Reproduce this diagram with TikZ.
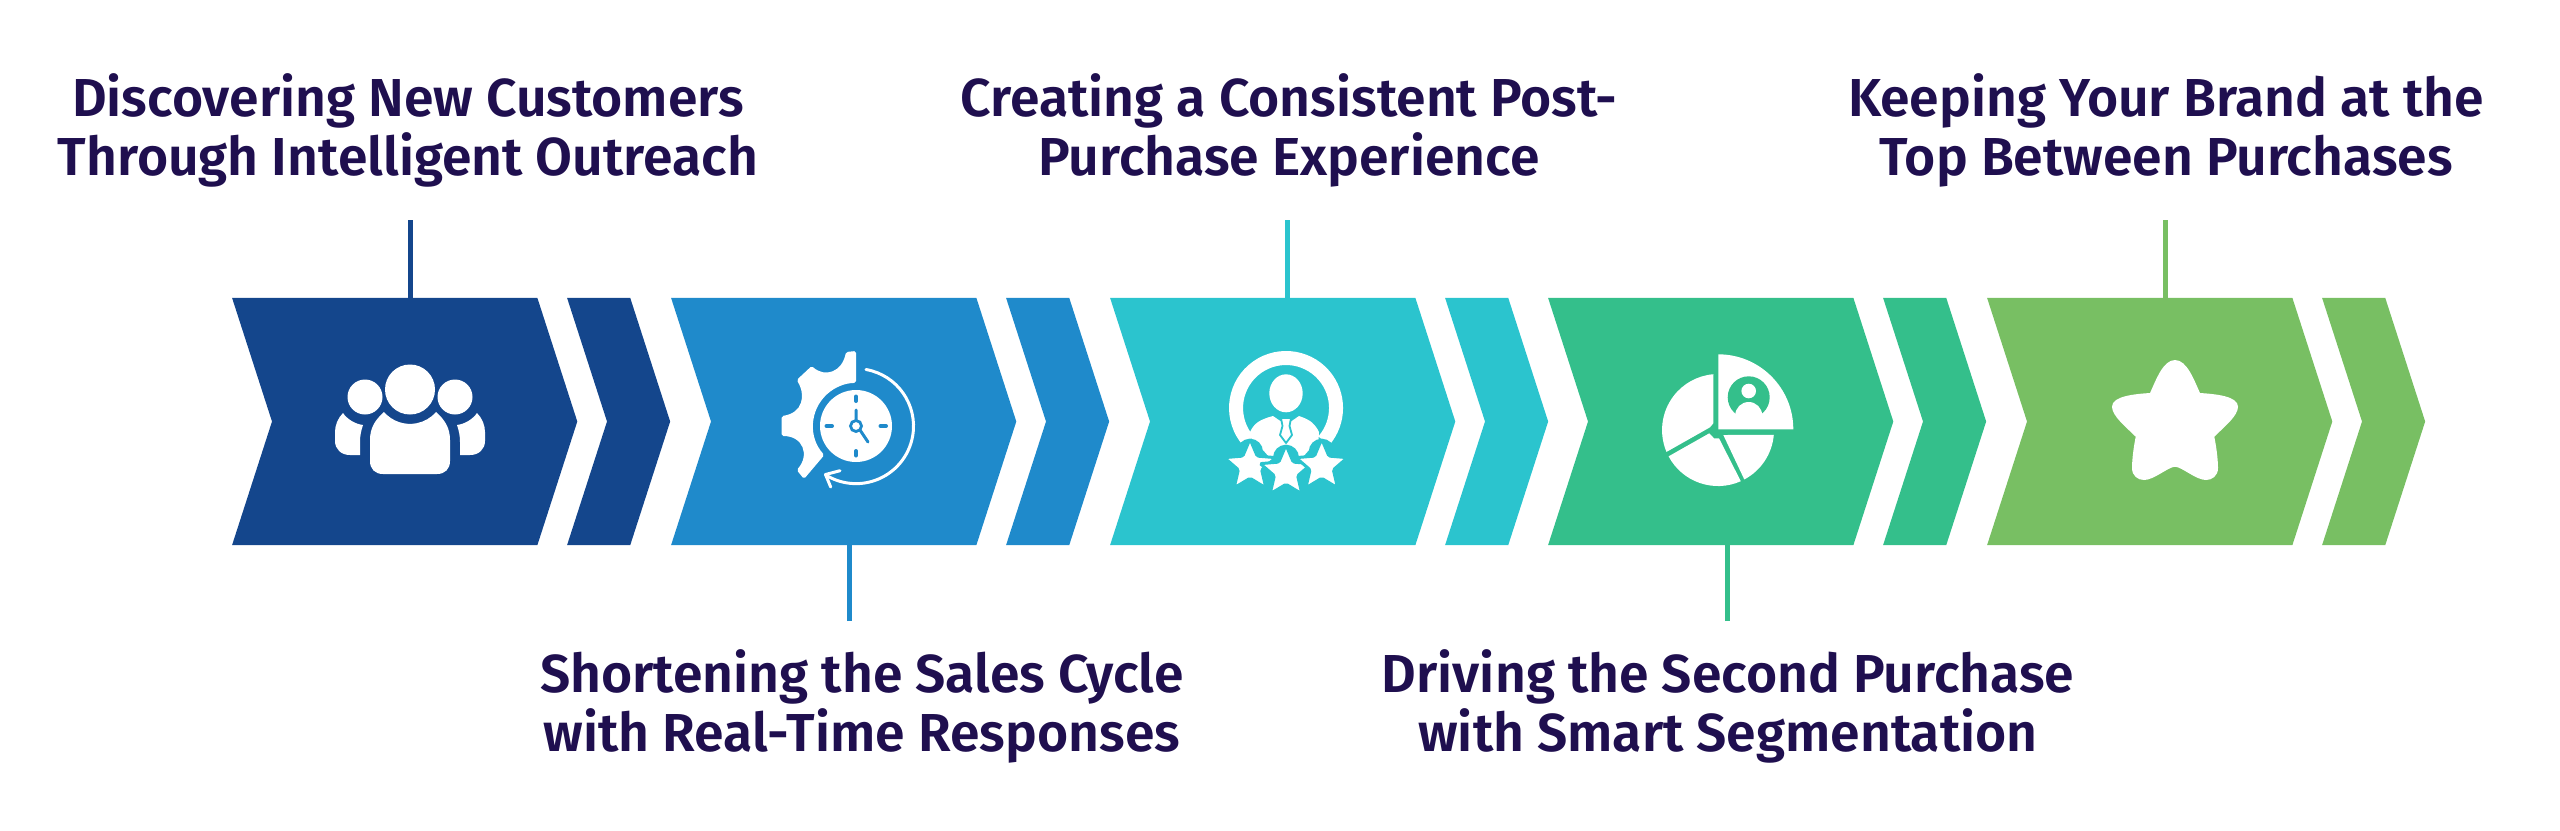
\documentclass[tikz,border=0pt]{standalone}
\usepackage{fontspec}
\setmainfont{Fira Sans}[BoldFont={Fira Sans SemiBold}]
\usetikzlibrary{shapes.symbols,shapes.geometric}
\definecolor{colA}{HTML}{14468C}
\definecolor{colB}{HTML}{1F8ACB}
\definecolor{colC}{HTML}{2BC4CE}
\definecolor{colD}{HTML}{34BF8B}
\definecolor{colE}{HTML}{78BF63}
\definecolor{inkcol}{HTML}{1F0F4F}
\tikzset{
	bigstep/.style={signal,signal from=west,signal to=east,signal pointer angle=144.2,fill=#1,inner sep=0,outer sep=0,minimum width=3.45cm,minimum height=2.47cm},
	tailstep/.style={signal,signal from=west,signal to=east,signal pointer angle=144.2,fill=#1,inner sep=0,outer sep=0,minimum width=1.03cm,minimum height=2.47cm},
	lbl/.style={text=inkcol,align=center,inner sep=0,font=\fontsize{15.2}{16.8}\selectfont\bfseries},
	tick/.style={draw=#1,line width=.05cm},
	rim/.style={draw=white,line width=.03cm,line cap=round,line join=round},
	rating/.style={star,star points=5,star point ratio=2.2,fill=white,draw=colC,line width=.03cm,inner sep=0,minimum size=.54cm,rounded corners=.4pt}
}
\begin{document}
\begin{tikzpicture}[x=.01cm,y=-.01cm]
	\useasboundingbox (0,0) rectangle (2560,830);

	\node[bigstep=colA,anchor=west] (stepA) at (272,421.5) {};
	\node[tailstep=colA,anchor=west] (tailA) at (607,421.5) {};
	\node[bigstep=colB,anchor=west] (stepB) at (711,421.5) {};
	\node[tailstep=colB,anchor=west] (tailB) at (1046,421.5) {};
	\node[bigstep=colC,anchor=west] (stepC) at (1150,421.5) {};
	\node[tailstep=colC,anchor=west] (tailC) at (1485,421.5) {};
	\node[bigstep=colD,anchor=west] (stepD) at (1588,421.5) {};
	\node[tailstep=colD,anchor=west] (tailD) at (1923,421.5) {};
	\node[bigstep=colE,anchor=west] (stepE) at (2027,421.5) {};
	\node[tailstep=colE,anchor=west] (tailE) at (2362,421.5) {};

	\node[lbl] (lblA) at (408,130) {Discovering New Customers\\Through Intelligent Outreach};
	\node[lbl] (lblB) at (862,706) {Shortening the Sales Cycle\\with Real-Time Responses};
	\node[lbl] (lblC) at (1289,130) {Creating a Consistent Post-\\Purchase Experience};
	\node[lbl] (lblD) at (1728,706) {Driving the Second Purchase\\with Smart Segmentation};
	\node[lbl] (lblE) at (2166,130) {Keeping Your Brand at the\\Top Between Purchases};

	\coordinate (tickA) at (410,220);
	\coordinate (tickB) at (849,621);
	\coordinate (tickC) at (1287,220);
	\coordinate (tickD) at (1727,621);
	\coordinate (tickE) at (2165,220);
	\draw[tick=colA] (tickA) -- (tickA |- stepA.north);
	\draw[tick=colB] (tickB) -- (tickB |- stepB.south);
	\draw[tick=colC] (tickC) -- (tickC |- stepC.north);
	\draw[tick=colD] (tickD) -- (tickD |- stepD.south);
	\draw[tick=colE] (tickE) -- (tickE |- stepE.north);

	\fill[white] (410,389.5) circle (25);
	\fill[white] (365,397) circle (17.5);
	\fill[white] (455,397) circle (17.5);
	\fill[white] (384,412) arc (139:41:34.5) .. controls (445,420) and (450,428) .. (450,440) -- (450,461) .. controls (450,469) and (445,474) .. (437,474) -- (383,474) .. controls (375,474) and (370,469) .. (370,461) -- (370,440) .. controls (370,428) and (375,420) .. (384,412) -- cycle;
	\fill[white] (343,413) .. controls (347,419) and (355,424) .. (363,425) .. controls (361,431) and (360,436) .. (360,442) -- (360,455) -- (350,455) .. controls (341,455) and (335,449) .. (335,441) -- (335,432) .. controls (335,425) and (338,418) .. (343,413) -- cycle;
	\fill[white] (477,413) .. controls (473,419) and (465,424) .. (457,425) .. controls (459,431) and (460,436) .. (460,442) -- (460,455) -- (470,455) .. controls (479,455) and (485,449) .. (485,441) -- (485,432) .. controls (485,425) and (482,418) .. (477,413) -- cycle;

	\fill[white,rounded corners=.5pt] (856,351) -- (846,352) .. controls (842,372) and (825,378) .. (811.7,366) -- (796.7,380) .. controls (806,395) and (803,413) .. (781.7,416) -- (781.7,436) .. controls (803,436) and (810,455) .. (796.7,470) -- (804,479) -- (824.3,455) arc (137.5:270:43) -- cycle;
	\fill[white] (856,426) circle (36);
	\draw[colB,line width=.04cm,line cap=round] (856,396.5) -- (856,401) (856,451) -- (856,455.5) (826.5,426) -- (832,426) (880.5,426) -- (886,426);
	\draw[colB,line width=.03cm,line cap=round] (856,410) -- (856,421) (860,430) -- (868,442);
	\draw[colB,fill=white,line width=.028cm] (856,426) circle (5.5);
	\draw[rim] (866,369.5) arc (-80:122:57.5);
	\draw[rim] (840,470.7) -- (825.5,474.5) -- (830.7,487);

	\draw[white,line width=.14cm] (1248.3,440.8) arc (139:401:50);
	\fill[white] (1286,393.3) ellipse (16.7 and 19);
	\fill[white] (1273,416) .. controls (1258,420) and (1254,424) .. (1250,432) -- (1254,450) -- (1318,450) -- (1319,432) .. controls (1315,424) and (1311,420) .. (1299,416) -- (1286,425) -- cycle;
	\fill[white] (1263,450) -- (1309,450) -- (1302,458) -- (1270,458) -- cycle;
	\draw[colC,fill=white,line width=.018cm,line join=round] (1281,418) -- (1291,418) -- (1289.5,426) -- (1292,435) -- (1286,443) -- (1280,435) -- (1282.5,426) -- cycle;
	\fill[colC] (1250,451.7) circle (13);
	\fill[colC] (1286,457.7) circle (13);
	\fill[colC] (1321.7,451.7) circle (13);
	\node[rating] (starL) at (1250,466) {};
	\node[rating] (starM) at (1286,472) {};
	\node[rating] (starR) at (1321.7,466) {};

	\fill[white] (1718.3,429.3) -- (1718.3,354.3) arc (270:360:75) -- cycle;
	\fill[colD] (1748.7,397.3) circle (21);
	\fill[white] (1748.7,391) circle (7.3);
	\fill[white] (1748.7,415.5) circle (13.5);
	\fill[white] (1713.3,374.2) -- (1713.3,423.3) -- (1710,427.3) -- (1666.5,451.9) arc (157:265:56) -- cycle;
	\fill[white] (1709.3,433.3) -- (1714,438.3) -- (1719,438.3) -- (1740.8,481.2) arc (66:152:56) -- cycle;
	\fill[white] (1723.3,435) -- (1773.8,434.9) arc (5:62:56) -- cycle;

	\fill[white] (2175,360) .. controls (2187,360) and (2194,380) .. (2200,393) .. controls (2215,394) and (2238,396) .. (2238,406.7) .. controls (2238,416) and (2224,427) .. (2214.3,436.7) .. controls (2217,450) and (2218,462) .. (2218,468) .. controls (2218,476) and (2212,480) .. (2206,480) .. controls (2196,480) and (2182,467) .. (2175,466.7) .. controls (2168,467) and (2154,480) .. (2144,480) .. controls (2138,480) and (2132,476) .. (2132,468) .. controls (2132,462) and (2133,450) .. (2135.7,436.7) .. controls (2126,427) and (2112,416) .. (2112,406.7) .. controls (2112,396) and (2135,394) .. (2150,393) .. controls (2156,380) and (2163,360) .. (2175,360) -- cycle;
\end{tikzpicture}
\end{document}
